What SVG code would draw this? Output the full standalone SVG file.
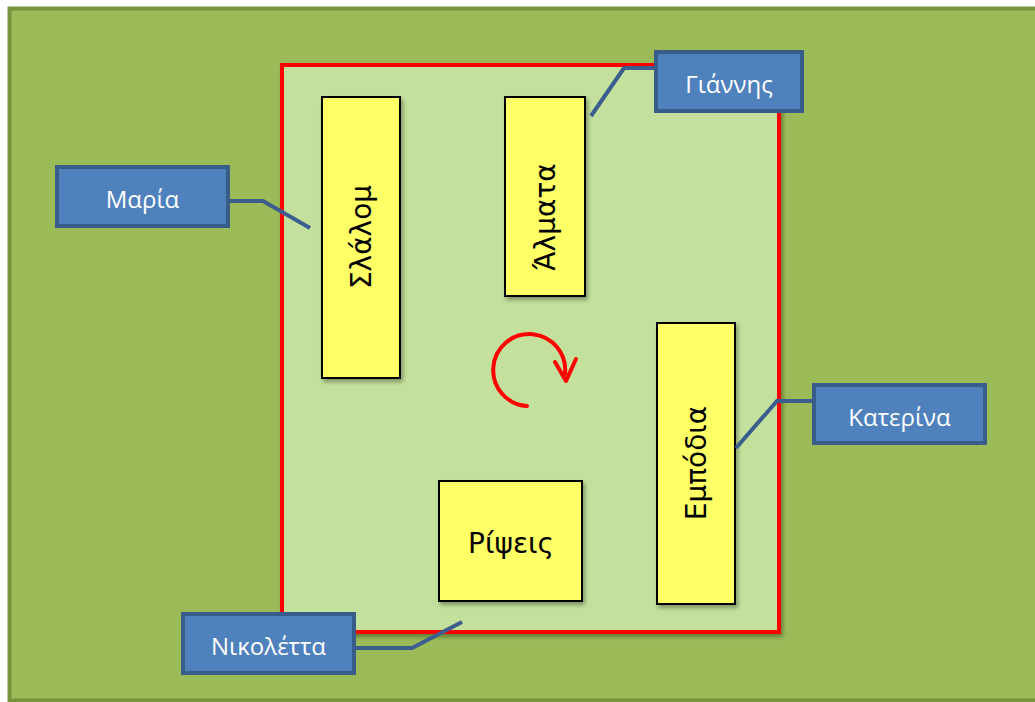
<svg xmlns="http://www.w3.org/2000/svg" width="1035" height="702" viewBox="0 0 1035 702">
<defs>
<filter id="sh" x="-10%" y="-10%" width="130%" height="130%">
<feGaussianBlur in="SourceAlpha" stdDeviation="2"/>
<feOffset dx="2" dy="3" result="b"/>
<feComponentTransfer><feFuncA type="linear" slope="0.35"/></feComponentTransfer>
<feMerge><feMergeNode/><feMergeNode in="SourceGraphic"/></feMerge>
</filter>
<style>
.st{fill:#FFFF66;stroke:#000;stroke-width:2}
.stt{font-family:"DejaVu Sans","Noto Sans",sans-serif;font-size:28px;fill:#000;text-anchor:middle;dominant-baseline:central}
.lb{fill:#4F81BD;stroke:#385D8A;stroke-width:4}
.lbt{font-family:"Open Sans","Noto Sans",sans-serif;font-size:24px;fill:#fff;text-anchor:middle;dominant-baseline:central}
.cn{fill:none;stroke:#3C5E8E;stroke-width:4}
</style>
</defs>
<rect x="9.5" y="8.5" width="1040" height="692" fill="#9BBB59" stroke="#77933C" stroke-width="4"/>
<rect id="field" x="282" y="65" width="497" height="567" fill="#C3E19D" stroke="#FF0000" stroke-width="4" filter="url(#sh)"/>
<g id="slalom"><rect class="st" x="322" y="97" width="78" height="281" filter="url(#sh)"/><text class="stt" transform="translate(361,237) rotate(-90)">Σλάλομ</text></g>
<g id="almata"><rect class="st" x="505" y="97" width="80" height="199" filter="url(#sh)"/><text class="stt" transform="translate(545,217) rotate(-90)">Άλματα</text></g>
<g id="empodia"><rect class="st" x="657" y="323" width="78" height="281" filter="url(#sh)"/><text class="stt" transform="translate(696,463) rotate(-90)">Εμπόδια</text></g>
<g id="ripseis"><rect class="st" x="439" y="481" width="143" height="120" filter="url(#sh)"/><text class="stt" x="511" y="543">Ρίψεις</text></g>
<g id="rotation" fill="none" stroke="#FF0000" stroke-width="4" stroke-linecap="round" stroke-linejoin="round">
<path d="M527,406 A36,36 0 1 1 565,374"/>
<path d="M555,362 L566,381 L576,359"/>
</g>
<g id="connectors">
<polyline class="cn" points="228,201 263,201 310,228"/>
<polyline class="cn" points="655,68 624,68 591,116"/>
<polyline class="cn" points="813,401 777,401 736,448"/>
<polyline class="cn" points="354,648 412,648 462,622"/>
</g>
<g id="maria"><rect class="lb" x="57" y="167" width="171" height="59"/><text class="lbt" x="142.5" y="198">Μαρία</text></g>
<g id="giannis"><rect class="lb" x="656" y="52" width="146" height="59"/><text class="lbt" x="729" y="83">Γιάννης</text></g>
<g id="katerina"><rect class="lb" x="814" y="385" width="171" height="58"/><text class="lbt" x="899.5" y="416">Κατερίνα</text></g>
<g id="nikoletta"><rect class="lb" x="183" y="614" width="171" height="59"/><text class="lbt" x="268.5" y="645">Νικολέττα</text></g>
</svg>
